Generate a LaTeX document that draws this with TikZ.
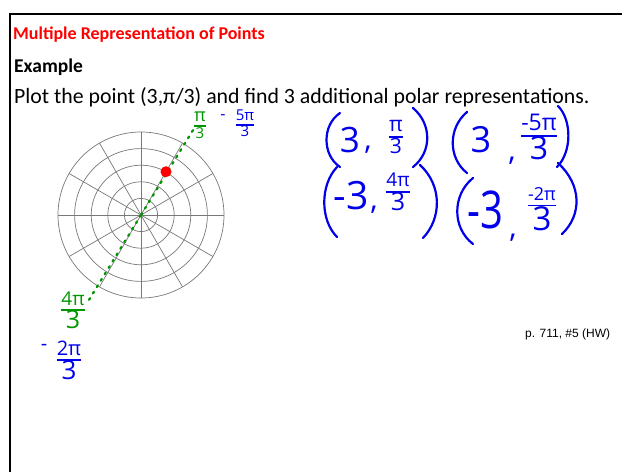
\documentclass[tikz,border=0pt]{standalone}
\usepackage{fontspec}
\usetikzlibrary{calc}
\setmainfont{Carlito}
\newfontfamily\hand{Open Sans}
\newfontfamily\arialf{Liberation Sans}
\definecolor{ink}{RGB}{0,0,235}
\definecolor{gink}{RGB}{0,150,0}
\definecolor{gridc}{RGB}{120,120,120}
\newcommand{\hfrac}[2]{\begingroup\setlength{\arrayrulewidth}{1.8pt}\renewcommand{\arraystretch}{0.7}\begin{tabular}{@{}c@{}}#1\\\hline #2\end{tabular}\endgroup}
\newcommand{\fs}[1]{\fontsize{#1}{#1}\selectfont}
\newcommand{\pii}{\char"03C0}
\begin{document}
\begin{tikzpicture}[x=1pt,y=-1pt,
  hw/.style={text=ink, font=\hand\fs{#1}, inner sep=0pt},
  hwg/.style={text=gink, font=\hand\fs{#1}, inner sep=0pt},
  paren/.style={draw=ink, line width=2.2pt, line cap=round},
  gridl/.style={draw=gridc, line width=0.7pt},
  gdots/.style={draw=gink, line width=2.2pt, line cap=round, dash pattern=on 2pt off 5.5pt}]
\useasboundingbox (0,0) rectangle (622,472);
\draw[line width=2pt] (9.5,472) -- (9.5,13.5) -- (622,13.5);
% header texts
\node[anchor=base west, inner sep=0pt, text=red, font=\bfseries\fs{18}] (title) at (13,39) {Multiple Representation of Points};
\node[anchor=base west, inner sep=0pt, font=\bfseries\fs{19.5}] (ex) at (14,72) {Example};
\node[anchor=base west, inner sep=0pt, font=\fs{21.8}] (plot) at (14,103) {Plot the point (3,\pii/3) and find 3 additional polar representations.};
\node[anchor=base west, inner sep=0pt, font=\arialf\fs{12}] (hw) at (525,337) {p. 711, \#5 (HW)};
% polar grid
\coordinate (c) at (141,215);
\foreach \r in {1,...,5} \draw[gridl] (c) circle[radius=\r*16.6pt];
\foreach \a in {0,30,...,330} \draw[gridl] (c) -- ++(\a:83);
\fill (c) circle[radius=1.3pt];
% dotted line
\coordinate (gtop) at ($(c)+(-58.5:103)$);
\coordinate (gbot) at ($(c)+(121.5:100)$);
\draw[gdots] (c) -- (gtop);
\draw[gdots] (c) -- (gbot);
\fill[red] ($(c)+(-60:50)$) circle[radius=5.5pt];
% labels near grid
\node[hwg=19] (l1) at (200,127) {\hfrac{\fs{18}\pii}{\fs{15}3}};
\node[hw=16, text height=2pt, text depth=0pt] (l2m) at (223,118) {-};
\node[hw=15] (l2) at (245,125) {\hfrac{\fs{15}5\pii}{\fs{15}3}};
\node[hwg=18] (l3) at (73,312) {\hfrac{\fs{19}4\pii}{\fs{25}3}};
\node[hw=20, text height=3pt, text depth=0pt] (l4m) at (44,349) {-};
\node[hw=18] (l4) at (69,362) {\hfrac{\fs{20}2\pii}{\fs{26}3}};
% (3, pi/3)
\draw[paren] (340,113) .. controls (322,125) and (322,155) .. (340,167);
\node[hw=35] (a3) at (350,140) {3};
\node[hw=30] (ac) at (368,150) {,};
\node[hw=20] (af) at (396,139) {\hfrac{\fs{21}\pii}{\fs{21}3}};
\draw[paren] (413,108) .. controls (432,124) and (432,152) .. (413,167);
% (3, -5pi/3)
\draw[paren] (467,112) .. controls (448,128) and (448,158) .. (467,173);
\node[hw=36] (b3) at (481,140) {3};
\node[hw=30] (bc) at (512,161) {,};
\node[hw=20] (bf) at (539,139) {\hfrac{\fs{23}-5\pii}{\fs{32}3}};
\draw[paren] (558,106) .. controls (572,120) and (572,152) .. (557,167);
% (-3, 4pi/3)
\draw[paren] (337,167) .. controls (320,185) and (320,220) .. (337,237);
\node[hw=39] (c3) at (351,196) {-3};
\node[hw=30] (cc) at (374,210) {,};
\node[hw=20] (cf) at (398,194) {\hfrac{\fs{19}4\pii}{\fs{25}3}};
\draw[paren] (420,165) .. controls (442,185) and (442,218) .. (423,238);
% (-3, -2pi/3)
\draw[paren] (473,178) .. controls (452,195) and (452,228) .. (473,244);
\node[hw=40, yscale=1.3] (d3) at (485,210) {-3};
\node[hw=30] (dc) at (513,238) {,};
\node[hw=20] (df) at (542,211) {\hfrac{\fs{18}-2\pii}{\fs{33}3}};
\draw[paren] (558,163) .. controls (582,185) and (582,215) .. (562,234);
\end{tikzpicture}
\end{document}
